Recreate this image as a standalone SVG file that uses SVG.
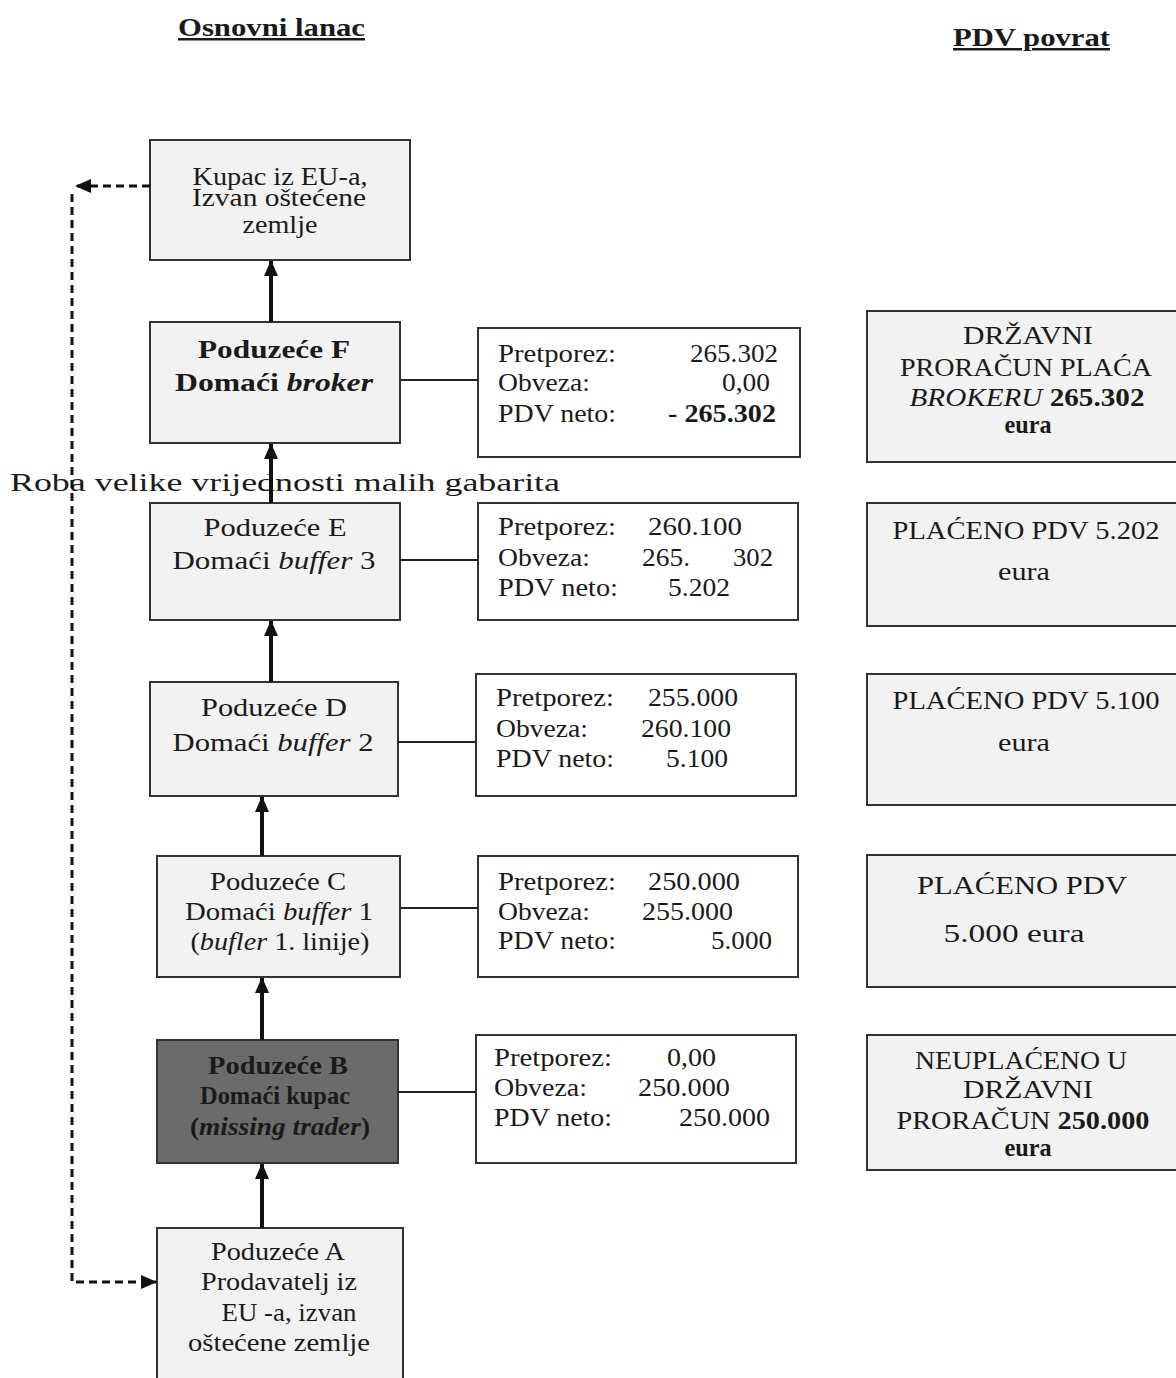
<svg xmlns="http://www.w3.org/2000/svg" width="1176" height="1378" viewBox="0 0 1176 1378">
<style>
text{font-family:"Liberation Serif","Times New Roman",serif;font-size:25px;fill:#1a1a1a}
.c{text-anchor:middle}
.b{font-weight:bold}
.i{font-style:italic}
.title{font-weight:bold;font-size:25px;text-decoration:underline}
.node{fill:#f2f2f2;stroke:#333;stroke-width:2}
.info{fill:#fff;stroke:#333;stroke-width:2}
.dark{fill:#6b6b6b;stroke:#333;stroke-width:2}
.arrow{stroke:#111;stroke-width:4;fill:none}
.link{stroke:#222;stroke-width:2;fill:none}
.dash{stroke:#111;stroke-width:3;fill:none;stroke-dasharray:8 5}
</style>
<defs>
<marker id="ah" markerUnits="userSpaceOnUse" markerWidth="16" markerHeight="16" viewBox="0 0 16 16" refX="15" refY="8" orient="auto">
<path d="M0,1 L16,8 L0,15 Z" fill="#111"/>
</marker>
</defs>
<rect width="1176" height="1378" fill="#fff"/>

<text class="title" x="178" y="36" textLength="187" lengthAdjust="spacingAndGlyphs">Osnovni lanac</text>
<text class="title" x="953" y="46" textLength="157" lengthAdjust="spacingAndGlyphs">PDV povrat</text>

<g id="kupac">
<rect class="node" x="150" y="140" width="260" height="120"/>
<text class="c" x="280" y="185" font-size="22" textLength="175" lengthAdjust="spacingAndGlyphs">Kupac iz EU-a,</text>
<text class="c" x="279" y="206" font-size="22" textLength="174" lengthAdjust="spacingAndGlyphs">Izvan oštećene</text>
<text class="c" x="280" y="233" textLength="75" lengthAdjust="spacingAndGlyphs">zemlje</text>
</g>

<g id="nodeF">
<rect class="node" x="150" y="322" width="250" height="121"/>
<text class="c b" x="274" y="358" textLength="152" lengthAdjust="spacingAndGlyphs">Poduzeće F</text>
<text class="c b" x="274" y="391" textLength="198" lengthAdjust="spacingAndGlyphs">Domaći <tspan class="i">broker</tspan></text>
</g>
<g id="infoF">
<rect class="info" x="478" y="328" width="322" height="129"/>
<text x="498" y="362" textLength="118" lengthAdjust="spacingAndGlyphs">Pretporez:</text>
<text x="690" y="362" textLength="88" lengthAdjust="spacingAndGlyphs">265.302</text>
<text x="498" y="391" textLength="92" lengthAdjust="spacingAndGlyphs">Obveza:</text>
<text x="722" y="391" textLength="48" lengthAdjust="spacingAndGlyphs">0,00</text>
<text x="498" y="422" textLength="118" lengthAdjust="spacingAndGlyphs">PDV neto:</text>
<text class="b" x="668" y="422" textLength="108" lengthAdjust="spacingAndGlyphs">- 265.302</text>
</g>
<g id="vatF">
<rect class="node" x="867" y="311" width="320" height="151"/>
<text class="c" x="1028" y="344" textLength="130" lengthAdjust="spacingAndGlyphs">DRŽAVNI</text>
<text class="c" x="1026" y="376" textLength="252" lengthAdjust="spacingAndGlyphs">PRORAČUN PLAĆA</text>
<text class="c" x="1027" y="406" textLength="235" lengthAdjust="spacingAndGlyphs"><tspan class="i">BROKERU</tspan> <tspan class="b">265.302</tspan></text>
<text class="c b" x="1028" y="433" textLength="47" lengthAdjust="spacingAndGlyphs">eura</text>
</g>

<text x="10" y="491" font-size="28" textLength="550" lengthAdjust="spacingAndGlyphs">Roba velike vrijednosti malih gabarita</text>

<g id="nodeE">
<rect class="node" x="150" y="503" width="250" height="117"/>
<text class="c" x="275" y="536" textLength="143" lengthAdjust="spacingAndGlyphs">Poduzeće E</text>
<text class="c" x="274" y="569" textLength="203" lengthAdjust="spacingAndGlyphs">Domaći <tspan class="i">buffer</tspan> 3</text>
</g>
<g id="infoE">
<rect class="info" x="478" y="503" width="320" height="117"/>
<text x="498" y="535" textLength="118" lengthAdjust="spacingAndGlyphs">Pretporez:</text>
<text x="648" y="535" textLength="94" lengthAdjust="spacingAndGlyphs">260.100</text>
<text x="498" y="566" textLength="92" lengthAdjust="spacingAndGlyphs">Obveza:</text>
<text x="642" y="566" textLength="48" lengthAdjust="spacingAndGlyphs">265.</text>
<text x="733" y="566" textLength="40" lengthAdjust="spacingAndGlyphs">302</text>
<text x="498" y="596" textLength="120" lengthAdjust="spacingAndGlyphs">PDV neto:</text>
<text x="668" y="596" textLength="62" lengthAdjust="spacingAndGlyphs">5.202</text>
</g>
<g id="vatE">
<rect class="node" x="867" y="503" width="320" height="123"/>
<text class="c" x="1026" y="539" textLength="267" lengthAdjust="spacingAndGlyphs">PLAĆENO PDV 5.202</text>
<text class="c" x="1024" y="580" textLength="52" lengthAdjust="spacingAndGlyphs">eura</text>
</g>

<g id="nodeD">
<rect class="node" x="150" y="682" width="248" height="114"/>
<text class="c" x="274" y="716" textLength="146" lengthAdjust="spacingAndGlyphs">Poduzeće D</text>
<text class="c" x="273" y="751" textLength="201" lengthAdjust="spacingAndGlyphs">Domaći <tspan class="i">buffer</tspan> 2</text>
</g>
<g id="infoD">
<rect class="info" x="476" y="674" width="320" height="122"/>
<text x="496" y="706" textLength="118" lengthAdjust="spacingAndGlyphs">Pretporez:</text>
<text x="648" y="706" textLength="90" lengthAdjust="spacingAndGlyphs">255.000</text>
<text x="496" y="737" textLength="92" lengthAdjust="spacingAndGlyphs">Obveza:</text>
<text x="641" y="737" textLength="90" lengthAdjust="spacingAndGlyphs">260.100</text>
<text x="496" y="767" textLength="118" lengthAdjust="spacingAndGlyphs">PDV neto:</text>
<text x="666" y="767" textLength="62" lengthAdjust="spacingAndGlyphs">5.100</text>
</g>
<g id="vatD">
<rect class="node" x="867" y="674" width="320" height="131"/>
<text class="c" x="1026" y="709" textLength="267" lengthAdjust="spacingAndGlyphs">PLAĆENO PDV 5.100</text>
<text class="c" x="1024" y="751" textLength="52" lengthAdjust="spacingAndGlyphs">eura</text>
</g>

<g id="nodeC">
<rect class="node" x="157" y="856" width="243" height="121"/>
<text class="c" x="278" y="890" textLength="136" lengthAdjust="spacingAndGlyphs">Poduzeće C</text>
<text class="c" x="279" y="920" textLength="188" lengthAdjust="spacingAndGlyphs">Domaći <tspan class="i">buffer</tspan> 1</text>
<text class="c" x="280" y="950" textLength="179" lengthAdjust="spacingAndGlyphs">(<tspan class="i">bufler</tspan> 1. linije)</text>
</g>
<g id="infoC">
<rect class="info" x="478" y="856" width="320" height="121"/>
<text x="498" y="890" textLength="118" lengthAdjust="spacingAndGlyphs">Pretporez:</text>
<text x="648" y="890" textLength="92" lengthAdjust="spacingAndGlyphs">250.000</text>
<text x="498" y="920" textLength="92" lengthAdjust="spacingAndGlyphs">Obveza:</text>
<text x="642" y="920" textLength="91" lengthAdjust="spacingAndGlyphs">255.000</text>
<text x="498" y="949" textLength="118" lengthAdjust="spacingAndGlyphs">PDV neto:</text>
<text x="711" y="949" textLength="61" lengthAdjust="spacingAndGlyphs">5.000</text>
</g>
<g id="vatC">
<rect class="node" x="867" y="855" width="320" height="132"/>
<text class="c" x="1022" y="894" textLength="210" lengthAdjust="spacingAndGlyphs">PLAĆENO PDV</text>
<text class="c" x="1014" y="942" textLength="141" lengthAdjust="spacingAndGlyphs">5.000 eura</text>
</g>

<g id="nodeB">
<rect class="dark" x="157" y="1040" width="241" height="123"/>
<text class="c b" x="278" y="1074" textLength="140" lengthAdjust="spacingAndGlyphs">Poduzeće B</text>
<text class="c b" x="275" y="1104" textLength="150" lengthAdjust="spacingAndGlyphs">Domaći kupac</text>
<text class="c b" x="280" y="1135" textLength="180" lengthAdjust="spacingAndGlyphs">(<tspan class="i">missing trader</tspan>)</text>
</g>
<g id="infoB">
<rect class="info" x="476" y="1035" width="320" height="128"/>
<text x="494" y="1066" textLength="118" lengthAdjust="spacingAndGlyphs">Pretporez:</text>
<text x="667" y="1066" textLength="49" lengthAdjust="spacingAndGlyphs">0,00</text>
<text x="494" y="1096" textLength="93" lengthAdjust="spacingAndGlyphs">Obveza:</text>
<text x="638" y="1096" textLength="92" lengthAdjust="spacingAndGlyphs">250.000</text>
<text x="494" y="1126" textLength="118" lengthAdjust="spacingAndGlyphs">PDV neto:</text>
<text x="679" y="1126" textLength="91" lengthAdjust="spacingAndGlyphs">250.000</text>
</g>
<g id="vatB">
<rect class="node" x="867" y="1035" width="320" height="135"/>
<text class="c" x="1021" y="1069" textLength="212" lengthAdjust="spacingAndGlyphs">NEUPLAĆENO U</text>
<text class="c" x="1028" y="1098" textLength="130" lengthAdjust="spacingAndGlyphs">DRŽAVNI</text>
<text class="c" x="1023" y="1129" textLength="253" lengthAdjust="spacingAndGlyphs">PRORAČUN <tspan class="b">250.000</tspan></text>
<text class="c b" x="1028" y="1156" textLength="47" lengthAdjust="spacingAndGlyphs">eura</text>
</g>

<g id="nodeA">
<rect class="node" x="157" y="1228" width="246" height="160"/>
<text class="c" x="278" y="1260" textLength="134" lengthAdjust="spacingAndGlyphs">Poduzeće A</text>
<text class="c" x="279" y="1290" textLength="156" lengthAdjust="spacingAndGlyphs">Prodavatelj iz</text>
<text class="c" x="289" y="1321" textLength="135" lengthAdjust="spacingAndGlyphs">EU -a, izvan</text>
<text class="c" x="279" y="1351" textLength="182" lengthAdjust="spacingAndGlyphs">oštećene zemlje</text>
</g>

<g id="connectors">
<line class="arrow" x1="271" y1="322" x2="271" y2="261" marker-end="url(#ah)"/>
<line class="arrow" x1="271" y1="503" x2="271" y2="444" marker-end="url(#ah)"/>
<line class="arrow" x1="271" y1="682" x2="271" y2="621" marker-end="url(#ah)"/>
<line class="arrow" x1="262" y1="856" x2="262" y2="797" marker-end="url(#ah)"/>
<line class="arrow" x1="262" y1="1040" x2="262" y2="978" marker-end="url(#ah)"/>
<line class="arrow" x1="262" y1="1228" x2="262" y2="1164" marker-end="url(#ah)"/>
<line class="link" x1="400" y1="380" x2="478" y2="380"/>
<line class="link" x1="400" y1="560" x2="478" y2="560"/>
<line class="link" x1="398" y1="742" x2="476" y2="742"/>
<line class="link" x1="400" y1="908" x2="478" y2="908"/>
<line class="link" x1="398" y1="1092" x2="476" y2="1092"/>
<path class="dash" d="M150,186 H76" marker-end="url(#ah)"/>
<path class="dash" d="M72,194 V1282 H156" marker-end="url(#ah)"/>
</g>
</svg>
